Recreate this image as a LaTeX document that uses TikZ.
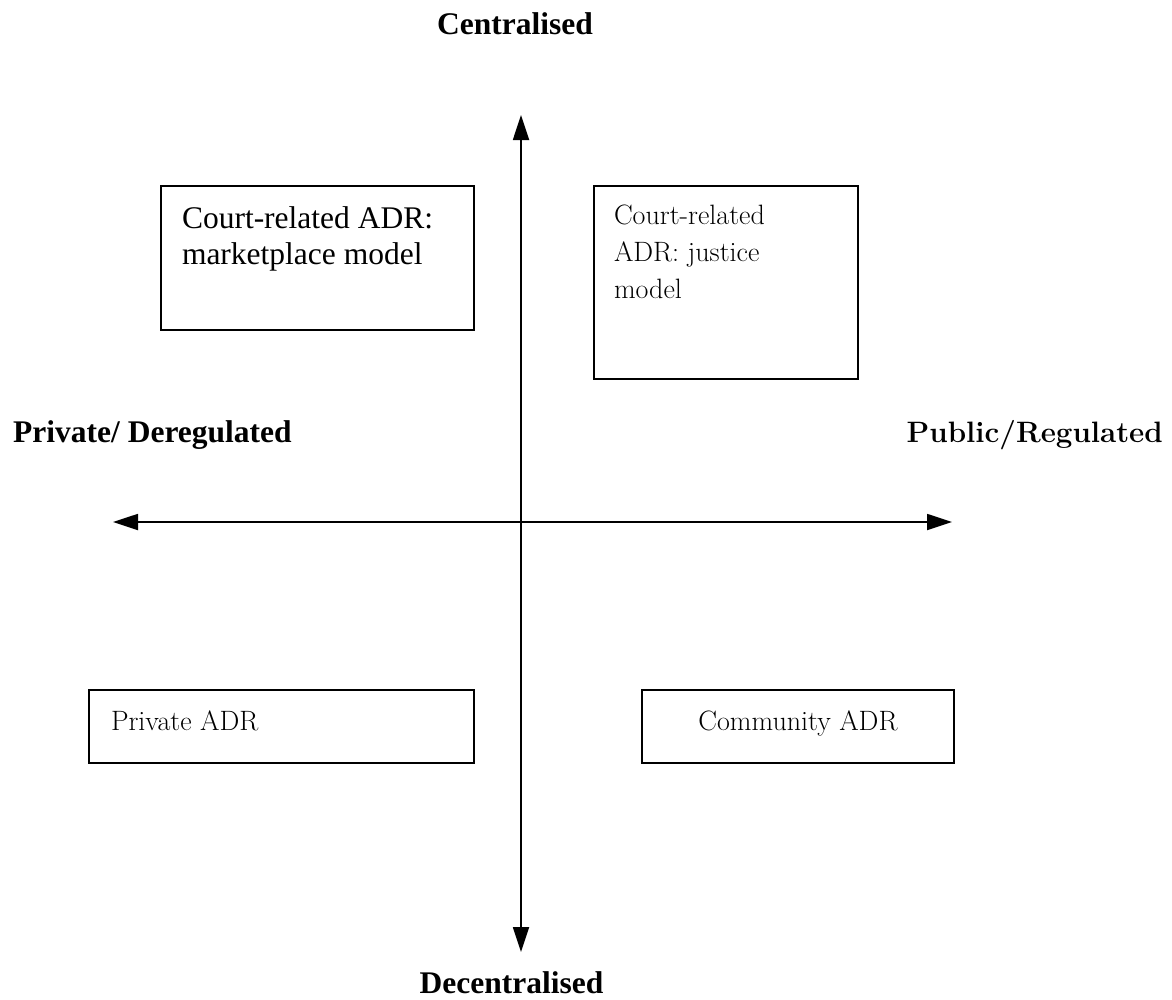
\documentclass[tikz,border=0pt]{standalone}
\usepackage{fontspec}
\newfontfamily\tnr{Liberation Serif}
\usetikzlibrary{arrows.meta}
\begin{document}
\begin{tikzpicture}[x=1pt,y=-1pt,
  axis/.style={line width=1.8pt, {Triangle[length=25pt,width=16pt]}-{Triangle[length=25pt,width=16pt]}},
  box/.style={draw, line width=2pt, inner sep=0pt, anchor=north west},
  lab/.style={inner sep=0pt, anchor=base},
  tlab/.style={lab, font=\tnr\bfseries\fontsize{31.5}{36}\selectfont}]
\useasboundingbox (0,0) rectangle (1172,999);
% axes
\coordinate (top) at (521,115);
\coordinate (bot) at (521,952);
\coordinate (lft) at (113,522);
\coordinate (rgt) at (952,522);
\draw[axis] (top) -- (bot);
\draw[axis] (lft) -- (rgt);
% axis labels
\node[tlab] (cen) at (515,34) {Centralised};
\node[tlab] (dec) at (511.5,993) {Decentralised};
\node[tlab, anchor=base west] (priv) at (13,442) {Private/ Deregulated};
\node[lab, anchor=base east, font=\bfseries\fontsize{29.5}{34}\selectfont] (pub) at (1163,442) {Public/Regulated};
% boxes
\node[box] (market) at (160,185) {\parbox[t][144pt][t]{313pt}{\tnr\fontsize{31.5}{36}\selectfont\raggedright\leftskip=21pt
  \rule{0pt}{42pt}Court-related ADR:\\marketplace model}};
\node[box] (justice) at (593,185) {\parbox[t][193pt][t]{264pt}{\fontsize{28}{37}\selectfont\raggedright\leftskip=20pt
  \rule{0pt}{38pt}Court-related\\ADR: justice\\model}};
\node[box] (private) at (88,689) {\parbox[t][73pt][t]{385pt}{\fontsize{28}{34}\selectfont\raggedright\leftskip=22pt
  \rule{0pt}{40pt}Private ADR}};
\node[box] (community) at (641,689) {\parbox[t][73pt][t]{312pt}{\fontsize{28}{34}\selectfont\centering
  \rule{0pt}{40pt}Community ADR}};
\end{tikzpicture}
\end{document}
